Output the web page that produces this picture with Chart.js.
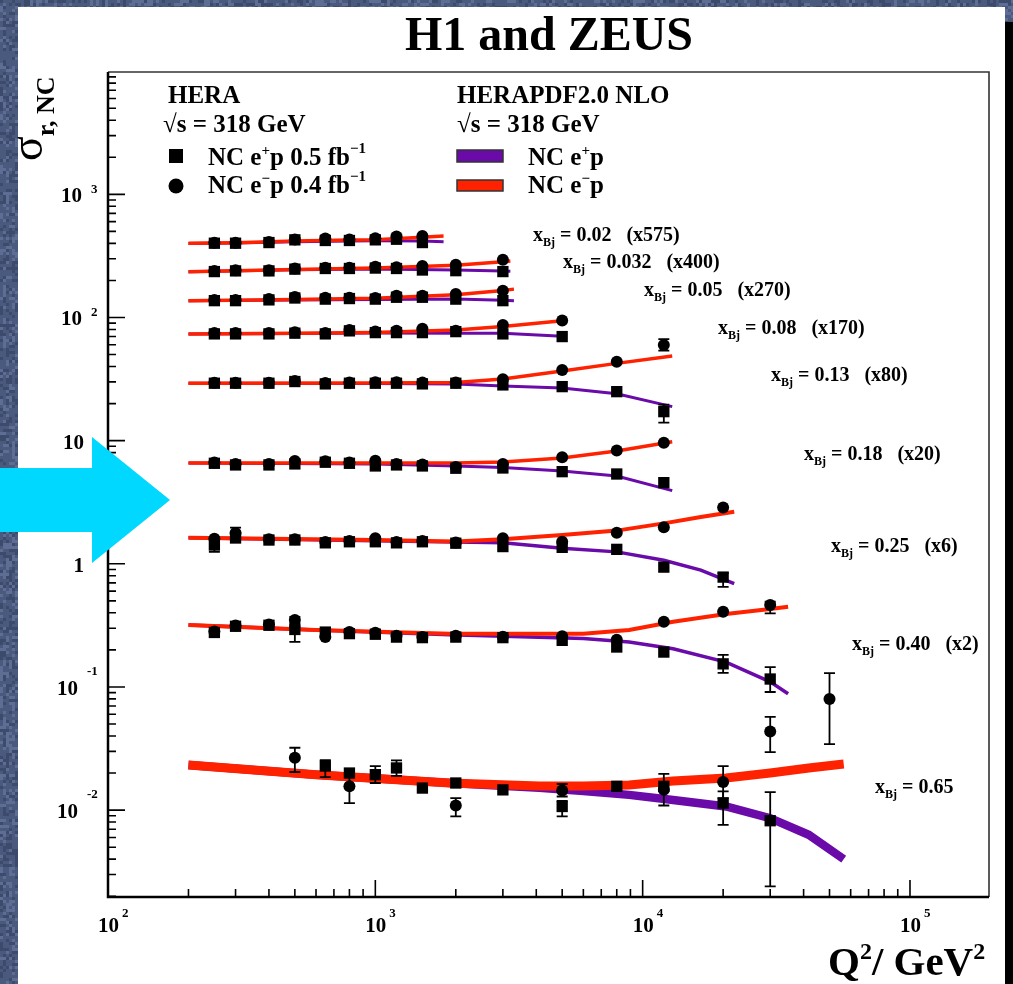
<!DOCTYPE html>
<html>
<head>
<meta charset="utf-8">
<script src="https://cdn.jsdelivr.net/npm/chart.js@4.4.1/dist/chart.umd.min.js"></script>
<style>
html, body { margin: 0; padding: 0; background: #4a5a7e; }
canvas { display: block; }
</style>
</head>
<body>
<canvas id="c" width="1013" height="984"></canvas>
<script>
// ---------------------------------------------------------------------------
// Reduced NC cross sections sigma_r (scaled by the factor quoted per x_Bj bin)
// Q^2 bins in GeV^2 shared by all measured series (null = no measurement)
// ---------------------------------------------------------------------------
const q2Points = [250, 300, 400, 500, 650, 800, 1000, 1200, 1500, 2000, 3000, 5000, 8000, 12000, 20000, 30000, 50000];

// x_Bj = 0.02 (x575)
const ePlus_002  = [401, 401, 406, 427, 422, 422, 427, 432, 406, null, null, null, null, null, null, null, null];
const eMinus_002 = [405, 405, 410, 430, 438, 430, 440, 454, 460, null, null, null, null, null, null, null, null];
// x_Bj = 0.032 (x400)
const ePlus_0032  = [236, 239, 239, 247, 250, 250, 252, 250, 243, 240, 236, null, null, null, null, null, null];
const eMinus_0032 = [239, 242, 242, 250, 254, 254, 258, 256, 262, 268, 294, null, null, null, null, null, null];
// x_Bj = 0.05 (x270)
const ePlus_005  = [137, 137, 139, 144, 141, 142.5, 141, 146, 146, 141, 137, null, null, null, null, null, null];
const eMinus_005 = [139, 139, 141, 147, 145, 145, 144, 150, 150, 155, 165, null, null, null, null, null, null];
// x_Bj = 0.08 (x170)
const ePlus_008  = [73.6, 73.6, 73.6, 74.6, 73.6, 77.9, 75.4, 75.4, 75.4, 76.8, 73.6, 70.0, null, null, null, null, null];
const eMinus_008 = [75, 75, 75, 76, 75, 79, 77, 78, 81, 78, 87.1, 94.4, null, null, null, null, null];
// x_Bj = 0.13 (x80)
const ePlus_013  = [29.26, 29.26, 29.26, 30.2, 28.9, 29.26, 29.26, 29.26, 28.9, 29.26, 28.35, 27.46, 25.0, 17.2, null, null, null];
const eMinus_013 = [29.5, 29.5, 29.5, 30.5, 29.4, 29.6, 29.8, 29.8, 29.6, 29.6, 31.5, 37.5, 43.8, 59.9, null, null, null];
const errPlus_013  = { 12000: [14.0, 19.6] };
const errMinus_013 = { 12000: [53.8, 66.7] };
// x_Bj = 0.18 (x20)
const ePlus_018  = [6.55, 6.35, 6.35, 6.47, 6.68, 6.55, 6.23, 6.35, 6.23, 5.97, 6.0, 5.60, 5.36, 4.56, null, null, null];
const eMinus_018 = [6.65, 6.45, 6.45, 6.84, 6.80, 6.65, 6.88, 6.45, 6.40, 6.10, 6.45, 7.33, 8.30, 9.63, null, null, null];
// x_Bj = 0.25 (x6)
const ePlus_025  = [1.42, 1.62, 1.56, 1.56, 1.48, 1.51, 1.51, 1.48, 1.51, 1.47, 1.38, 1.36, 1.31, 0.94, 0.78, null, null];
const eMinus_025 = [1.60, 1.78, 1.58, 1.58, 1.50, 1.53, 1.61, 1.50, 1.53, 1.49, 1.61, 1.51, 1.79, 1.98, 2.86, null, null];
const errPlus_025  = { 250: [1.25, 1.60], 20000: [0.65, 0.84] };
const errMinus_025 = { 300: [1.60, 1.97] };
// x_Bj = 0.40 (x2)
const ePlus_040  = [0.277, 0.311, 0.317, 0.293, 0.279, 0.271, 0.268, 0.254, 0.2515, 0.254, 0.2515, 0.239, 0.211, 0.192, 0.154, 0.116, null];
const eMinus_040 = [0.282, 0.316, 0.322, 0.350, 0.254, 0.280, 0.275, 0.260, 0.255, 0.260, 0.256, 0.258, 0.242, 0.338, 0.408, 0.463, null];
const errPlus_040  = { 500: [0.232, 0.31], 20000: [0.130, 0.182], 30000: [0.091, 0.145] };
const errMinus_040 = { 500: [0.33, 0.371], 30000: [0.396, 0.492] };
// x_Bj = 0.65 (unscaled)
const ePlus_065  = [null, null, null, null, 0.0228, 0.0200, 0.0194, 0.0220, 0.0151, 0.0166, 0.0146, 0.0107, 0.0156, 0.0156, 0.0114, 0.0082, null];
const eMinus_065 = [null, null, null, 0.0266, null, 0.0156, null, null, null, 0.0109, null, 0.0144, null, 0.0146, 0.0169, 0.0434, 0.0797];
const errPlus_065  = { 650: [0.0185, 0.0255], 1000: [0.0166, 0.0228], 1200: [0.0190, 0.0253], 5000: [0.0089, 0.0119], 20000: [0.0076, 0.0142], 30000: [0.0024, 0.0140] };
const errMinus_065 = { 500: [0.0204, 0.0321], 800: [0.0114, 0.0194], 2000: [0.0089, 0.0125], 5000: [0.0129, 0.0163], 12000: [0.0109, 0.0197], 20000: [0.0125, 0.0228], 30000: [0.0296, 0.0572], 50000: [0.0344, 0.1297] };

// ---------------------------------------------------------------------------
// HERAPDF2.0 NLO predictions (e+p and e-p) sampled along Q^2
// ---------------------------------------------------------------------------
const fitQ2_002 = [200, 300, 500, 800, 1000, 1500, 1800];
const fitPlus_002  = [398, 402, 412, 418, 420, 418, 412];
const fitMinus_002 = [401, 405, 418, 425, 428, 448, 458];

const fitQ2_0032 = [200, 500, 1000, 2000, 3000, 3200];
const fitPlus_0032  = [235, 244, 248, 243, 238, 237];
const fitMinus_0032 = [235, 245, 252, 266, 283, 287];

const fitQ2_005 = [200, 500, 1000, 2000, 3000, 3300];
const fitPlus_005  = [136.5, 139, 140, 141, 138, 137];
const fitMinus_005 = [137, 140, 143, 153, 166, 170];

const fitQ2_008 = [200, 500, 1000, 2000, 3000, 5000, 5200];
const fitPlus_008  = [73.6, 74.3, 74.9, 74.5, 74.6, 70.5, 69.6];
const fitMinus_008 = [73.6, 74.5, 75.5, 79, 84.4, 94, 95.6];

const fitQ2_013 = [200, 1000, 2000, 3000, 5000, 8000, 12900];
const fitPlus_013  = [29.26, 29.1, 28.8, 27.8, 26.8, 24.0, 18.9];
const fitMinus_013 = [29.26, 29.4, 29.7, 31.7, 36.8, 42.4, 48.7];

const fitQ2_018 = [200, 1000, 2000, 3000, 5000, 8000, 12900];
const fitPlus_018  = [6.6, 6.45, 6.23, 6.06, 5.67, 5.17, 3.93];
const fitMinus_018 = [6.6, 6.6, 6.6, 6.71, 7.24, 8.25, 9.8];

const fitQ2_025 = [200, 1000, 2000, 3000, 5000, 8000, 12000, 16500, 22000];
const fitPlus_025  = [1.63, 1.54, 1.50, 1.48, 1.34, 1.25, 1.07, 0.89, 0.69];
const fitMinus_025 = [1.63, 1.56, 1.52, 1.58, 1.71, 1.86, 2.13, 2.40, 2.65];

const fitQ2_040 = [200, 600, 1900, 6000, 8900, 13000, 20500, 30000, 35000];
const fitPlus_040  = [0.318, 0.290, 0.266, 0.247, 0.232, 0.204, 0.159, 0.110, 0.088];
const fitMinus_040 = [0.318, 0.290, 0.271, 0.271, 0.290, 0.338, 0.391, 0.430, 0.448];

const fitQ2_065 = [200, 600, 1900, 4100, 6000, 8900, 13000, 20500, 30000, 41800, 56500];
const fitPlus_065  = [0.0232, 0.0194, 0.0166, 0.0152, 0.0143, 0.0133, 0.0121, 0.0107, 0.0086, 0.0063, 0.0040];
const fitMinus_065 = [0.0232, 0.0194, 0.0166, 0.0157, 0.0157, 0.0160, 0.0172, 0.0182, 0.0200, 0.0220, 0.0237];

// Bin labels
const xBjValues = ['0.02', '0.032', '0.05', '0.08', '0.13', '0.18', '0.25', '0.40', '0.65'];
const xBjScales = ['(x575)', '(x400)', '(x270)', '(x170)', '(x80)', '(x20)', '(x6)', '(x2)', ''];

// Axis tick labels
const xTickValues = [100, 1000, 10000, 100000];
const xTickExp = ['2', '3', '4', '5'];
const yTickValues = [0.01, 0.1, 1, 10, 100, 1000];
const yTickBase = ['10', '10', '1', '10', '10', '10'];
const yTickExp = ['-2', '-1', '', '', '2', '3'];

// ---------------------------------------------------------------------------
const PURPLE = '#6a0aa8';
const RED = '#ff2200';
const SERIF = '"Liberation Serif", "DejaVu Serif", serif';

const bins = [
  { ep: ePlus_002,  em: eMinus_002,  erp: null, erm: null, q: fitQ2_002,  fp: fitPlus_002,  fm: fitMinus_002,  w: 3 },
  { ep: ePlus_0032, em: eMinus_0032, erp: null, erm: null, q: fitQ2_0032, fp: fitPlus_0032, fm: fitMinus_0032, w: 3 },
  { ep: ePlus_005,  em: eMinus_005,  erp: null, erm: null, q: fitQ2_005,  fp: fitPlus_005,  fm: fitMinus_005,  w: 3 },
  { ep: ePlus_008,  em: eMinus_008,  erp: null, erm: null, q: fitQ2_008,  fp: fitPlus_008,  fm: fitMinus_008,  w: 3 },
  { ep: ePlus_013,  em: eMinus_013,  erp: errPlus_013, erm: errMinus_013, q: fitQ2_013, fp: fitPlus_013, fm: fitMinus_013, w: 3 },
  { ep: ePlus_018,  em: eMinus_018,  erp: null, erm: null, q: fitQ2_018,  fp: fitPlus_018,  fm: fitMinus_018,  w: 3 },
  { ep: ePlus_025,  em: eMinus_025,  erp: errPlus_025, erm: errMinus_025, q: fitQ2_025, fp: fitPlus_025, fm: fitMinus_025, w: 3.5 },
  { ep: ePlus_040,  em: eMinus_040,  erp: errPlus_040, erm: errMinus_040, q: fitQ2_040, fp: fitPlus_040, fm: fitMinus_040, w: 3.5 },
  { ep: ePlus_065,  em: eMinus_065,  erp: errPlus_065, erm: errMinus_065, q: fitQ2_065, fp: fitPlus_065, fm: fitMinus_065, w: 8.5 }
];

function measured(values, errs) {
  const out = [];
  values.forEach((v, i) => {
    if (v === null) return;
    const q = q2Points[i];
    out.push({ x: q, y: v, err: errs && errs[q] ? errs[q] : null });
  });
  return out;
}
function curve(q2, values) {
  return q2.map((q, i) => ({ x: q, y: values[i] }));
}

const datasets = [];
bins.forEach(b => {
  datasets.push({ data: curve(b.q, b.fp), showLine: true, borderColor: PURPLE, borderWidth: b.w,
    pointRadius: 0, fill: false, order: 4, borderCapStyle: 'butt' });
  datasets.push({ data: curve(b.q, b.fm), showLine: true, borderColor: RED, borderWidth: b.w + 0.5,
    pointRadius: 0, fill: false, order: 3, borderCapStyle: 'butt' });
  datasets.push({ data: measured(b.em, b.erm), pointStyle: 'circle', pointRadius: 6,
    backgroundColor: '#000', borderColor: '#000', borderWidth: 0, order: 2, showLine: false });
  datasets.push({ data: measured(b.ep, b.erp), pointStyle: 'rect', pointRadius: 8,
    backgroundColor: '#000', borderColor: '#000', borderWidth: 0, order: 1, showLine: false });
});

// ---------------------------------------------------------------------------
// drawing helpers
function rich(ctx, x, y, parts) {
  let cx = x;
  for (const p of parts) {
    ctx.font = (p.w || 'bold') + ' ' + p.s + 'px ' + SERIF;
    ctx.fillText(p.t, cx, y + (p.dy || 0));
    cx += ctx.measureText(p.t).width + (p.gap || 0);
  }
  return cx;
}

function mottled(ctx, x0, y0, w, h) {
  ctx.fillStyle = '#4a5a7e';
  ctx.fillRect(x0, y0, w, h);
  for (let y = y0; y < y0 + h; y += 3) {
    for (let x = x0; x < x0 + w; x += 3) {
      const s = Math.sin(x * 12.9898 + y * 78.233) * 43758.5453;
      const f = s - Math.floor(s);
      if (f > 0.75) { ctx.fillStyle = 'rgba(130,145,185,0.35)'; ctx.fillRect(x, y, 3, 3); }
      else if (f < 0.25) { ctx.fillStyle = 'rgba(35,45,75,0.35)'; ctx.fillRect(x, y, 3, 3); }
    }
  }
}

const backdrop = {
  id: 'backdrop',
  beforeDraw(chart) {
    const ctx = chart.ctx;
    ctx.save();
    mottled(ctx, 0, 0, 1013, 984);
    ctx.fillStyle = '#000';
    ctx.fillRect(1005, 22, 8, 962);
    ctx.fillStyle = '#fff';
    ctx.fillRect(18, 7, 987, 977);
    ctx.restore();
  }
};

const errorBars = {
  id: 'errorBars',
  afterDatasetsDraw(chart) {
    const ctx = chart.ctx, ys = chart.scales.y;
    ctx.save();
    ctx.strokeStyle = '#000';
    ctx.lineWidth = 1.8;
    chart.data.datasets.forEach((ds, di) => {
      const meta = chart.getDatasetMeta(di);
      ds.data.forEach((p, i) => {
        if (!p.err) return;
        const x = meta.data[i].x;
        const y1 = ys.getPixelForValue(p.err[0]);
        const y2 = ys.getPixelForValue(p.err[1]);
        ctx.beginPath();
        ctx.moveTo(x, y1); ctx.lineTo(x, y2);
        ctx.moveTo(x - 5.5, y1); ctx.lineTo(x + 5.5, y1);
        ctx.moveTo(x - 5.5, y2); ctx.lineTo(x + 5.5, y2);
        ctx.stroke();
      });
    });
    ctx.restore();
  }
};

// ROOT-style frame with inward ticks
const frame = {
  id: 'frame',
  afterDatasetsDraw(chart) {
    const ctx = chart.ctx, a = chart.chartArea, xs = chart.scales.x, ys = chart.scales.y;
    ctx.save();
    ctx.strokeStyle = '#333';
    ctx.lineWidth = 1.6;
    ctx.beginPath();
    ctx.moveTo(a.left, a.top); ctx.lineTo(a.right, a.top); ctx.lineTo(a.right, a.bottom);
    ctx.stroke();
    ctx.strokeStyle = '#000';
    ctx.lineWidth = 2.5;
    ctx.beginPath();
    ctx.moveTo(a.left, a.top); ctx.lineTo(a.left, a.bottom); ctx.lineTo(a.right, a.bottom);
    ctx.stroke();
    ctx.lineWidth = 1.6;
    ctx.beginPath();
    for (let e = 2; e <= 5; e++) {
      for (let m = 1; m <= 9; m++) {
        const v = m * Math.pow(10, e);
        if (v < xs.min || v > xs.max) continue;
        const px = xs.getPixelForValue(v);
        const len = m === 1 ? 17 : 8;
        ctx.moveTo(px, a.bottom); ctx.lineTo(px, a.bottom - len);
      }
    }
    for (let e = -3; e <= 3; e++) {
      for (let m = 1; m <= 9; m++) {
        const v = m * Math.pow(10, e);
        if (v < ys.min || v > ys.max) continue;
        const py = ys.getPixelForValue(v);
        const len = m === 1 ? 17 : 8;
        ctx.moveTo(a.left, py); ctx.lineTo(a.left + len, py);
      }
    }
    ctx.stroke();
    ctx.restore();
  }
};

const labelPos = [[533, 241], [563, 268], [644, 296], [718, 334], [771, 381], [804, 460], [831, 552], [852, 650], [875, 793]];

const texts = {
  id: 'texts',
  afterDraw(chart) {
    const ctx = chart.ctx, xs = chart.scales.x, ys = chart.scales.y;
    ctx.save();
    ctx.fillStyle = '#000';
    ctx.textBaseline = 'alphabetic';

    // title
    ctx.font = 'bold 48px ' + SERIF;
    ctx.textAlign = 'center';
    ctx.fillText('H1 and ZEUS', 549, 50);
    ctx.textAlign = 'left';

    // tick labels
    xTickValues.forEach((v, i) => {
      const px = xs.getPixelForValue(v);
      ctx.font = 'bold 21px ' + SERIF;
      ctx.fillText('10', px - 10, 932);
      ctx.font = 'bold 13px ' + SERIF;
      ctx.fillText(xTickExp[i], px + 14, 917);
    });
    yTickValues.forEach((v, i) => {
      const py = ys.getPixelForValue(v);
      const ex = yTickExp[i];
      const neg = ex.startsWith('-');
      const right = neg ? 78 : (ex ? 82 : 84);
      ctx.font = 'bold 21px ' + SERIF;
      ctx.textAlign = 'right';
      ctx.fillText(yTickBase[i], right, py + 8);
      ctx.textAlign = 'left';
      if (ex) {
        ctx.font = 'bold 13px ' + SERIF;
        ctx.fillText(ex, right + 9, neg ? py - 12 : py - 1);
      }
    });

    // axis titles
    rich(ctx, 828, 975, [
      { t: 'Q', s: 41 }, { t: '2', s: 24, dy: -16 }, { t: '/ GeV', s: 41 }, { t: '2', s: 24, dy: -16 }
    ]);
    ctx.save();
    ctx.translate(42, 161);
    ctx.rotate(-Math.PI / 2);
    rich(ctx, 0, 0, [{ t: 'σ', s: 46, w: 'normal' }, { t: 'r, NC', s: 26, dy: 12 }]);
    ctx.restore();

    // legend: data
    ctx.font = 'bold 25px ' + SERIF;
    ctx.fillText('HERA', 168, 103);
    ctx.fillText('√s = 318 GeV', 163, 132);
    ctx.fillRect(169, 149, 14, 14);
    ctx.beginPath(); ctx.arc(176, 186, 7.5, 0, Math.PI * 2); ctx.fill();
    rich(ctx, 208, 165, [
      { t: 'NC e', s: 25 }, { t: '+', s: 15, dy: -10 }, { t: 'p 0.5 fb', s: 25 }, { t: '−1', s: 15, dy: -12 }
    ]);
    rich(ctx, 208, 193, [
      { t: 'NC e', s: 25 }, { t: '−', s: 15, dy: -10 }, { t: 'p 0.4 fb', s: 25 }, { t: '−1', s: 15, dy: -12 }
    ]);

    // legend: predictions
    ctx.font = 'bold 25px ' + SERIF;
    ctx.fillText('HERAPDF2.0 NLO', 457, 103);
    ctx.fillText('√s = 318 GeV', 457, 132);
    ctx.lineWidth = 1.5;
    ctx.strokeStyle = '#333';
    ctx.fillStyle = PURPLE;
    ctx.fillRect(457, 150, 46, 12); ctx.strokeRect(457, 150, 46, 12);
    ctx.fillStyle = RED;
    ctx.fillRect(457, 180, 46, 11); ctx.strokeRect(457, 180, 46, 11);
    ctx.fillStyle = '#000';
    rich(ctx, 528, 165, [{ t: 'NC e', s: 25 }, { t: '+', s: 15, dy: -10 }, { t: 'p', s: 25 }]);
    rich(ctx, 528, 193, [{ t: 'NC e', s: 25 }, { t: '−', s: 15, dy: -10 }, { t: 'p', s: 25 }]);

    // bin labels
    xBjValues.forEach((xv, i) => {
      const [lx, ly] = labelPos[i];
      const tail = xBjScales[i] ? ' = ' + xv + '   ' + xBjScales[i] : ' = ' + xv;
      rich(ctx, lx, ly, [{ t: 'x', s: 20 }, { t: 'Bj', s: 12, dy: 5 }, { t: tail, s: 20 }]);
    });

    // pointer arrow
    ctx.fillStyle = '#00d8ff';
    ctx.beginPath();
    ctx.moveTo(0, 468); ctx.lineTo(92, 468); ctx.lineTo(92, 437); ctx.lineTo(170, 500);
    ctx.lineTo(92, 563); ctx.lineTo(92, 532); ctx.lineTo(0, 532);
    ctx.closePath();
    ctx.fill();
    ctx.restore();
  }
};

new Chart(document.getElementById('c'), {
  type: 'scatter',
  data: { datasets },
  options: {
    responsive: false,
    animation: false,
    devicePixelRatio: 1,
    events: [],
    layout: { padding: { left: 108, top: 72, right: 24, bottom: 87 } },
    plugins: { legend: { display: false }, tooltip: { enabled: false } },
    scales: {
      x: { type: 'logarithmic', min: 100, max: 197500, display: false },
      y: { type: 'logarithmic', min: 0.00197, max: 9850, display: false }
    }
  },
  plugins: [backdrop, frame, errorBars, texts]
});
</script>
</body>
</html>
